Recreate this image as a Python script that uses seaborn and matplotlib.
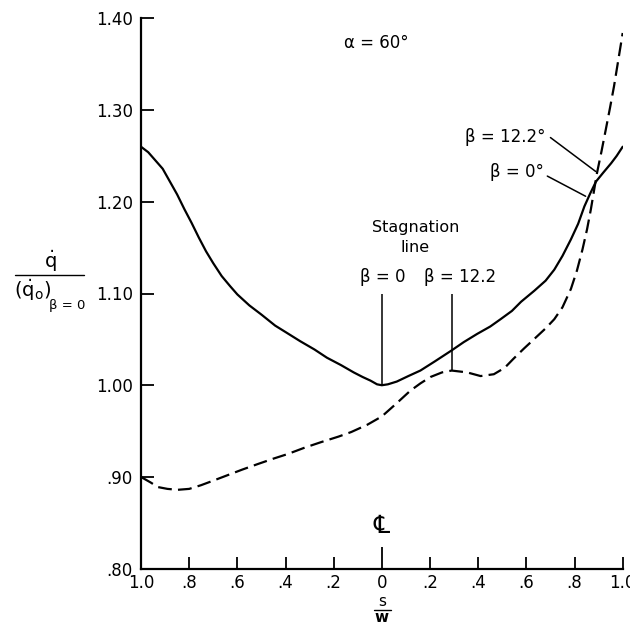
import numpy as np
import pandas as pd
import matplotlib
matplotlib.use("Agg")
import matplotlib.pyplot as plt
import seaborn as sns

# ---- data ----
solid_x = [-1.0, -0.97, -0.94, -0.91, -0.88, -0.85, -0.82, -0.79, -0.76, -0.73, -0.7, -0.665,
           -0.63, -0.6, -0.55, -0.5, -0.443, -0.4, -0.339, -0.28, -0.228, -0.17, -0.117, -0.08,
           -0.047, -0.02, 0.0, 0.025, 0.062, 0.11, 0.16, 0.22, 0.29, 0.34, 0.396, 0.45, 0.493,
           0.54, 0.578, 0.633, 0.68, 0.716, 0.75, 0.785, 0.815, 0.841, 0.865, 0.889, 0.92, 0.952,
           0.975, 1.0]
solid_y = [1.260, 1.254, 1.245, 1.236, 1.222, 1.208, 1.192, 1.177, 1.161, 1.146, 1.133, 1.119,
           1.108, 1.099, 1.087, 1.077, 1.065, 1.058, 1.048, 1.039, 1.030, 1.022, 1.014, 1.009,
           1.005, 1.001, 1.000, 1.001, 1.004, 1.010, 1.016, 1.026, 1.038, 1.047, 1.056, 1.064, 1.072,
           1.081, 1.091, 1.103, 1.114, 1.126, 1.141, 1.159, 1.176, 1.195, 1.209, 1.222, 1.232, 1.242,
           1.250, 1.260]

dashed_x = [-1.0, -0.96, -0.93, -0.89, -0.848, -0.8, -0.751, -0.7, -0.64, -0.58, -0.516, -0.45,
            -0.391, -0.32, -0.252, -0.18, -0.127, -0.06, 0.0, 0.06, 0.118, 0.16, 0.202, 0.25, 0.29,
            0.354, 0.41, 0.465, 0.51, 0.547, 0.59, 0.631, 0.68, 0.716, 0.75, 0.785, 0.81, 0.833,
            0.852, 0.868, 0.893, 0.912, 0.93, 0.947, 0.964, 0.982, 1.0]
dashed_y = [0.900, 0.894, 0.889, 0.887, 0.886, 0.887, 0.891, 0.896, 0.902, 0.908, 0.914, 0.920,
            0.925, 0.932, 0.938, 0.944, 0.949, 0.957, 0.966, 0.980, 0.994, 1.002, 1.009, 1.014, 1.016,
            1.014, 1.010, 1.012, 1.019, 1.029, 1.040, 1.050, 1.062, 1.072, 1.085, 1.105, 1.125, 1.148,
            1.170, 1.192, 1.231, 1.255, 1.279, 1.302, 1.326, 1.355, 1.384]

x_ticks = [-1.0, -0.8, -0.6, -0.4, -0.2, 0.0, 0.2, 0.4, 0.6, 0.8, 1.0]
x_tick_labels = ["1.0", ".8", ".6", ".4", ".2", "0", ".2", ".4", ".6", ".8", "1.0"]
y_ticks = [0.80, 0.90, 1.00, 1.10, 1.20, 1.30, 1.40]
y_tick_labels = [".80", ".90", "1.00", "1.10", "1.20", "1.30", "1.40"]

stag_x = [0.0, 0.29]
stag_top = 1.10
stag_bottom = [1.000, 1.016]

sns.set_style("ticks")
plt.rcParams["font.family"] = ["DejaVu Sans"]
plt.rcParams["mathtext.fontset"] = "dejavusans"
plt.rcParams["text.color"] = "black"
plt.rcParams["xtick.color"] = "black"
plt.rcParams["ytick.color"] = "black"

fig = plt.figure(figsize=(6.3, 6.25), dpi=100)
ax = fig.add_axes([141 / 630, 1 - 568.7 / 625, (622.7 - 141) / 630, (568.7 - 18.3) / 625])

df_solid = pd.DataFrame({"x": solid_x, "y": solid_y})
df_dashed = pd.DataFrame({"x": dashed_x, "y": dashed_y})
sns.lineplot(data=df_solid, x="x", y="y", ax=ax, sort=False, estimator=None,
             color="black", linewidth=1.6)
sns.lineplot(data=df_dashed, x="x", y="y", ax=ax, sort=False, estimator=None,
             color="black", linewidth=1.6, dashes=False, linestyle=(0, (6.2, 2.8)))

ax.set_xlim(-1.0, 1.0)
ax.set_ylim(0.80, 1.40)
ax.set_xticks(x_ticks)
ax.set_xticklabels(x_tick_labels)
ax.set_yticks(y_ticks)
ax.set_yticklabels(y_tick_labels)
ax.tick_params(axis="both", direction="in", length=9, width=1.3, labelsize=12,
               colors="black", labelcolor="black")
ax.tick_params(axis="y", pad=6)
ax.tick_params(axis="x", pad=4)
# longer centre-line tick at s/w = 0
ct = ax.xaxis.get_major_ticks()[5]
ct.tick1line.set_markersize(15.5)

for s in ["top", "right"]:
    ax.spines[s].set_visible(False)
for s in ["left", "bottom"]:
    ax.spines[s].set_linewidth(1.6)
    ax.spines[s].set_color("black")
ax.set_xlabel("")
ax.set_ylabel("")
ax.set_facecolor("white")

# stagnation line markers
ax.vlines(stag_x, [stag_top, stag_top], stag_bottom, color="black", linewidth=1.1)

# annotations
ax.text(-0.023, 1.373, "α = 60°", ha="center", va="center", fontsize=12)
ax.text(0.139, 1.172, "Stagnation", ha="center", va="center", fontsize=11.5)
ax.text(0.139, 1.150, "line", ha="center", va="center", fontsize=11.5)
ax.text(0.002, 1.118, "β = 0", ha="center", va="center", fontsize=12)
ax.text(0.326, 1.118, "β = 12.2", ha="center", va="center", fontsize=12)
ax.text(0.680, 1.271, "β = 12.2°", ha="right", va="center", fontsize=12)
ax.text(0.672, 1.232, "β = 0°", ha="right", va="center", fontsize=12)
ax.plot([0.700, 0.888], [1.270, 1.233], color="black", linewidth=1.1)
ax.plot([0.687, 0.846], [1.228, 1.206], color="black", linewidth=1.1)

# centre-line symbol
ax.text(0.0, 0.847, "℄", ha="center", va="center", fontsize=18)

# x-axis label s/w
fig.text(382 / 630, 1 - 602 / 625, "s", ha="center", va="center", fontsize=11)
fig.add_artist(plt.Line2D([374 / 630, 391 / 630], [1 - 610 / 625, 1 - 610 / 625],
                          transform=fig.transFigure, color="black", linewidth=1.0))
fig.text(382 / 630, 1 - 618 / 625, "w", ha="center", va="center", fontsize=11,
         fontweight="bold")

# y-axis label  q_dot / (q_dot_o)_{beta=0}
fig.text(50 / 630, 1 - 261 / 625, r"$\dot{\mathrm{q}}$", ha="center", va="center", fontsize=14)
fig.add_artist(plt.Line2D([15 / 630, 84 / 630], [1 - 275 / 625, 1 - 275 / 625],
                          transform=fig.transFigure, color="black", linewidth=1.0))
fig.text(33 / 630, 1 - 290 / 625, r"$(\dot{\mathrm{q}}_{\mathrm{o}})$", ha="center",
         va="center", fontsize=14)
fig.text(67 / 630, 1 - 306 / 625, "β = 0", ha="center", va="center", fontsize=9.5)

fig.savefig("out.png", dpi=100, facecolor="white")
